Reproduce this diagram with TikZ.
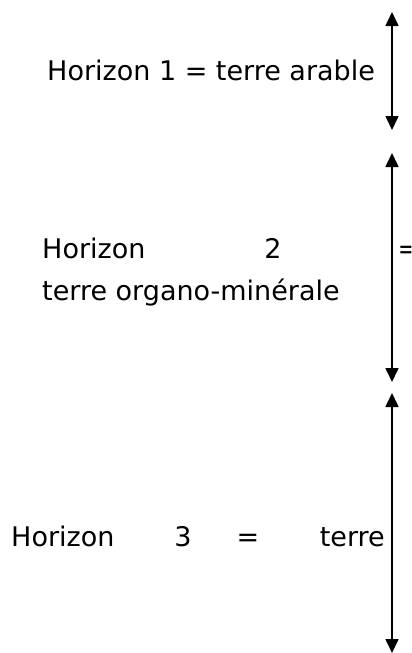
\documentclass[tikz,border=0pt]{standalone}
\usepackage{fontspec}
\setmainfont{DejaVu Sans}
\usetikzlibrary{arrows.meta}
\begin{document}
\begin{tikzpicture}[x=1pt,y=-1pt,
  lbl/.style={anchor=base west, inner sep=0pt, font=\fontsize{27}{32}\selectfont},
  lblc/.style={lbl, anchor=base},
  lblr/.style={lbl, anchor=base east},
  dim/.style={line width=1.6pt, {Triangle[length=14pt,width=13pt]}-{Triangle[length=14pt,width=13pt]}}]
\useasboundingbox (0,0) rectangle (412,653);
% horizon 1
\node[lbl] (h1) at (47,80) {Horizon 1 = terre arable};
% horizon 2
\node[lbl] (h2a) at (42,258) {Horizon};
\node[lblc] (h2b) at (273,258) {2};
\node[lblc] (h2c) at (406,258) {\scalebox{0.65}[1]{=}};
\node[lbl] (h2d) at (42,300) {terre organo-minérale};
% horizon 3
\node[lbl] (h3a) at (11,546) {Horizon};
\node[lblc] (h3b) at (183,546) {3};
\node[lblc] (h3c) at (248,546) {=};
\node[lblr] (h3d) at (385,546) {terre};
% arrows
\coordinate (a1t) at (392,12);
\coordinate (a1b) at (392,130);
\coordinate (a2t) at (392,153);
\coordinate (a2b) at (392,382);
\coordinate (a3t) at (392,393);
\coordinate (a3b) at (392,653);
\draw[dim] (a1t) -- (a1b);
\draw[dim] (a2t) -- (a2b);
\draw[dim] (a3t) -- (a3b);
\end{tikzpicture}
\end{document}
